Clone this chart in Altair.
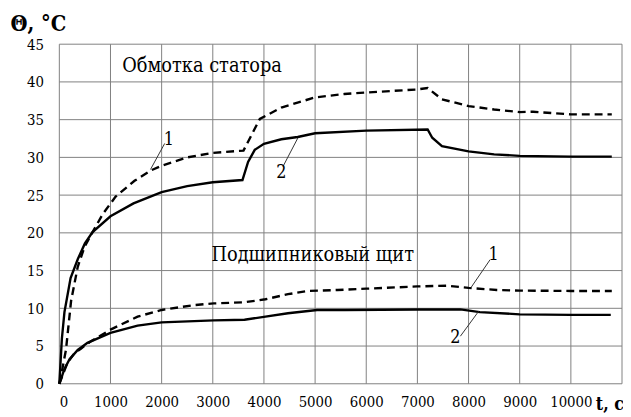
import altair as alt
import pandas as pd

# Stator winding, curve 1 (dashed)
t_st1 = [0, 60, 130, 230, 360, 490, 650, 850, 1100, 1470, 1800, 2000, 2500, 3000, 3600,
         3920, 4340, 5000, 5570, 6000, 7000, 7200, 7480, 8000, 8500, 9000, 9260, 10000, 10800]
y_st1 = [0, 2.0, 4.5, 11.0, 15.5, 18.1, 20.1, 22.5, 24.8, 26.9, 28.3, 28.9, 30.0, 30.6, 30.9,
         35.1, 36.6, 37.95, 38.4, 38.6, 39.0, 39.2, 37.7, 36.8, 36.35, 36.0, 36.05, 35.7, 35.7]

# Stator winding, curve 2 (solid)
t_st2 = [0, 50, 100, 220, 360, 500, 650, 1000, 1450, 2000, 2500, 3000, 3580, 3690, 3820,
         4000, 4340, 4660, 5000, 6000, 7200, 7290, 7480, 8000, 8500, 9000, 10000, 10800]
y_st2 = [0, 6.0, 9.5, 14.0, 16.5, 18.6, 20.1, 22.2, 23.9, 25.4, 26.2, 26.7, 27.0, 29.4, 31.0,
         31.8, 32.4, 32.7, 33.2, 33.55, 33.7, 32.6, 31.5, 30.8, 30.4, 30.2, 30.1, 30.1]

# Bearing shield, curve 1 (dashed)
t_bs1 = [0, 160, 290, 420, 620, 1000, 1530, 2000, 2640, 3020, 3620, 4030, 4470, 4860, 5440,
         6000, 7000, 7580, 8000, 8550, 9000, 10000, 10800]
y_bs1 = [0, 2.8, 4.0, 4.65, 5.65, 7.17, 8.9, 9.78, 10.43, 10.65, 10.8, 11.2, 11.87, 12.3, 12.43,
         12.6, 12.9, 13.0, 12.7, 12.43, 12.35, 12.3, 12.3]

# Bearing shield, curve 2 (solid)
t_bs2 = [0, 100, 200, 360, 550, 1000, 1530, 2000, 3020, 3620, 4030, 4470, 5040, 5580,
         7000, 7840, 8220, 9000, 10000, 10780]
y_bs2 = [0, 1.96, 3.26, 4.48, 5.43, 6.74, 7.7, 8.13, 8.4, 8.48, 8.9, 9.35, 9.78, 9.78,
         9.85, 9.85, 9.5, 9.2, 9.13, 9.13]

# Annotation labels (number / section titles) and leader lines
lbl_text = ["1", "2", "1", "2"]
lbl_t = [2140, 4340, 8490, 7740]
lbl_y = [32.3, 27.9, 17.0, 6.1]

sec_text = ["Обмотка статора", "Подшипниковый щит"]
sec_t = [1230, 2975]
sec_y = [42.1, 17.0]

lead_t1 = [1782, 4373, 8053, 7840]
lead_y1 = [28.4, 28.8, 12.8, 6.3]
lead_t2 = [2060, 4665, 8422, 8197]
lead_y2 = [31.85, 32.6, 16.45, 9.6]

x_ticks = list(range(0, 11001, 1000))
y_ticks = list(range(0, 46, 5))
x_domain = [0, 11000]
y_domain = [0, 45]

FONT = "DejaVu Serif Condensed, DejaVu Serif, serif"
GRID = "#808080"

rows = []
for name, ts, ys, kind in [("st1", t_st1, y_st1, "dash"), ("st2", t_st2, y_st2, "solid"),
                           ("bs1", t_bs1, y_bs1, "dash"), ("bs2", t_bs2, y_bs2, "solid")]:
    for i, (t, y) in enumerate(zip(ts, ys)):
        rows.append({"curve": name, "t": t, "y": y, "kind": kind, "i": i})
df = pd.DataFrame(rows)

x_scale = alt.Scale(domain=x_domain, nice=False, zero=False)
y_scale = alt.Scale(domain=y_domain, nice=False)

x_axis = alt.Axis(values=x_ticks, labelExpr="datum.value >= 11000 ? '' : '' + datum.value",
                  grid=False, domain=False, ticks=False, labelPadding=11,
                  title="t, c", titleFontSize=18,
                  titleX=543, titleY=26, titleAlign="left",
                  titleBaseline="alphabetic", titleAnchor="start")
y_axis = alt.Axis(values=y_ticks, grid=False, domain=False, ticks=False, labelPadding=16,
                  title="Θ, °C", titleFontSize=22,
                  titleAngle=0, titleX=-50, titleY=-14,
                  titleAlign="left", titleBaseline="alphabetic", titleAnchor="start")


def X(field):
    return alt.X(field, scale=x_scale, axis=x_axis)


def Y(field):
    return alt.Y(field, scale=y_scale, axis=y_axis)


# grid lines built from the tick lists, spanning the axis domains
vgrid = pd.DataFrame({"t1": x_ticks, "t2": x_ticks,
                      "y1": [y_domain[0]] * len(x_ticks), "y2": [y_domain[1]] * len(x_ticks)})
hgrid = pd.DataFrame({"t1": [x_domain[0]] * len(y_ticks), "t2": [x_domain[1]] * len(y_ticks),
                      "y1": y_ticks, "y2": y_ticks})
grid = alt.Chart(pd.concat([vgrid, hgrid], ignore_index=True)).mark_rule(
    color=GRID, strokeWidth=1
).encode(x=X("t1:Q"), y=Y("y1:Q"), x2="t2:Q", y2="y2:Q")

base = alt.Chart(df)

dashed = base.transform_filter(alt.datum.kind == "dash").mark_line(
    color="black", strokeWidth=2.4, strokeDash=[8, 5]
).encode(x=X("t:Q"), y=Y("y:Q"), detail="curve:N", order="i:Q")

solid = base.transform_filter(alt.datum.kind == "solid").mark_line(
    color="black", strokeWidth=2.4
).encode(x=X("t:Q"), y=Y("y:Q"), detail="curve:N", order="i:Q")

lead_df = pd.DataFrame({"t1": lead_t1, "y1": lead_y1, "t2": lead_t2, "y2": lead_y2})
leaders = alt.Chart(lead_df).mark_rule(color="#333333", strokeWidth=1).encode(
    x=X("t1:Q"), y=Y("y1:Q"), x2="t2:Q", y2="y2:Q",
)

lbl_df = pd.DataFrame({"text": lbl_text, "t": lbl_t, "y": lbl_y})
labels = alt.Chart(lbl_df).mark_text(fontSize=18, align="center", baseline="middle").encode(
    x=X("t:Q"), y=Y("y:Q"), text="text:N",
)

sec_df = pd.DataFrame({"text": sec_text, "t": sec_t, "y": sec_y})
sections = alt.Chart(sec_df).mark_text(fontSize=20, align="left", baseline="middle").encode(
    x=X("t:Q"), y=Y("y:Q"), text="text:N",
)

chart = alt.layer(grid, dashed, solid, leaders, labels, sections).properties(
    width=623, height=409,
    autosize=alt.AutoSizeParams(type="fit", contains="padding"),
    padding={"left": 2, "top": 2, "right": 0, "bottom": 1},
    background="white",
).configure_view(
    stroke=None
).configure_axis(
    labelFont=FONT, labelFontSize=15, labelColor="black",
    titleFont=FONT, titleFontWeight="bold", titleColor="black",
).configure_text(
    font=FONT, color="black"
)

chart.save("out.html", embed_options={"renderer": "svg", "actions": False})
